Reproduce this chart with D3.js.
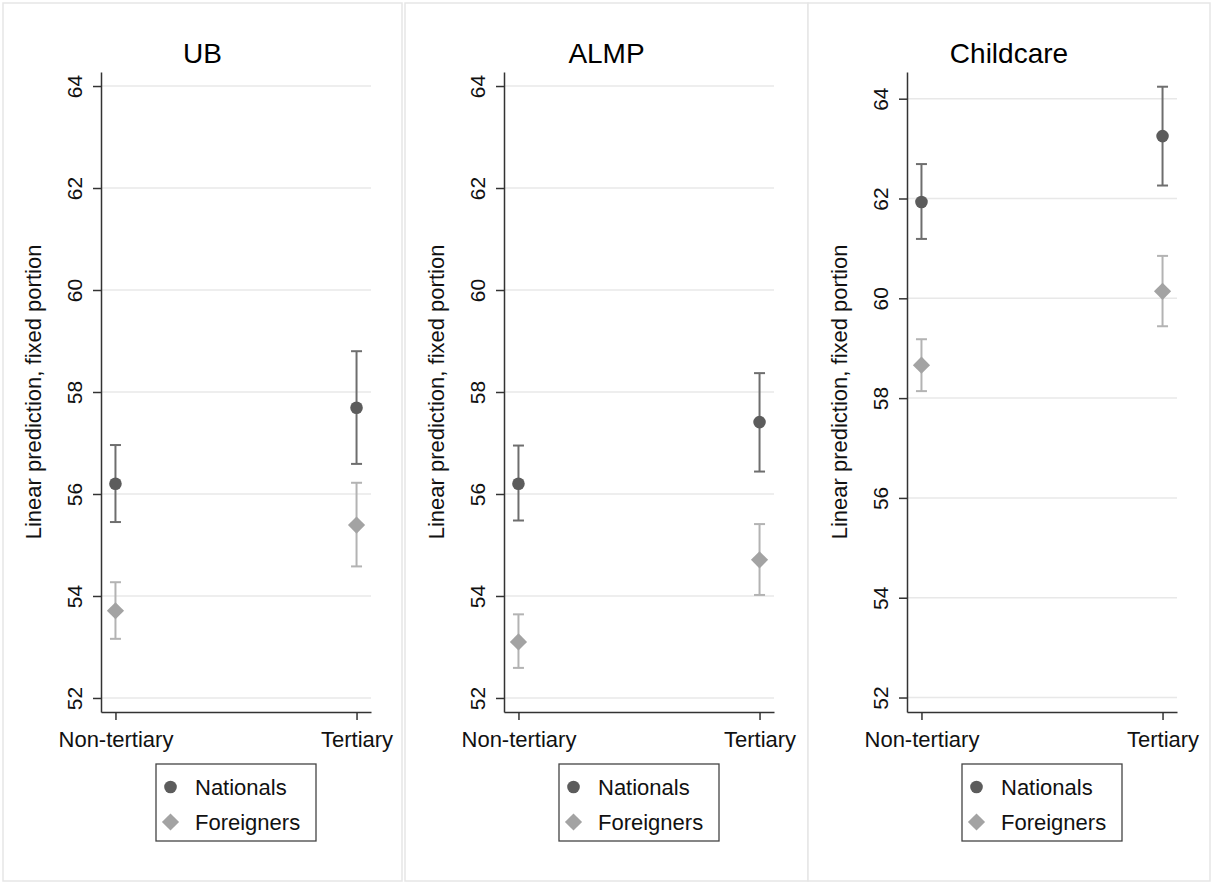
<!DOCTYPE html>
<html>
<head>
<meta charset="utf-8">
<script src="https://cdn.jsdelivr.net/npm/d3@7"></script>
<style>
    body { margin: 0; background: #fff; }
    svg { display: block; font-family: "Liberation Sans", Arial, sans-serif; }
</style>
</head>
<body>
<svg id="chart" width="1211" height="882"></svg>
<script>
const panels = ["UB", "ALMP", "Childcare"]
const educLevels = ["Non-tertiary", "Tertiary"]
const groups = ["Nationals", "Foreigners"]
const yTicks = [52, 54, 56, 58, 60, 62, 64]
const yTitle = "Linear prediction, fixed portion"

// per panel: [Non-tertiary, Tertiary]
const nationalsEst = [[56.20, 57.69], [56.20, 57.41], [61.93, 63.25]]
const nationalsLo  = [[55.45, 56.59], [55.48, 56.44], [61.19, 62.26]]
const nationalsHi  = [[56.96, 58.80], [56.95, 58.37], [62.69, 64.24]]
const foreignersEst = [[53.71, 55.39], [53.10, 54.71], [58.66, 60.14]]
const foreignersLo  = [[53.16, 54.58], [52.59, 54.02], [58.14, 59.44]]
const foreignersHi  = [[54.27, 56.22], [53.64, 55.41], [59.18, 60.85]]

const yDomains = [[51.725, 64.275], [51.725, 64.275], [51.71, 64.535]]

const panelLeft = [3, 405, 808]
const panelRight = [402, 808, 1210]
const axisLeft = [101, 504, 907]
const plotW = 270
const plotTop = 72
const plotBottom = 712

const colors = {
    Nationals: { mark: "#5c5c5c", bar: "#6e6e6e" },
    Foreigners: { mark: "#a3a3a3", bar: "#b3b3b3" }
}

const svg = d3.select("#chart")

const diamond = (cx, cy, h) => `M${cx},${cy - h}L${cx + h},${cy}L${cx},${cy + h}L${cx - h},${cy}Z`

const drawMarker = (g, group, cx, cy) => {
    if (group === "Nationals") {
        g.append("circle")
            .attr("cx", cx).attr("cy", cy).attr("r", 6.3)
            .attr("fill", colors[group].mark)
    } else {
        g.append("path")
            .attr("d", diamond(cx, cy, 8.6))
            .attr("fill", colors[group].mark)
    }
}

panels.forEach((name, i) => {
    const g = svg.append("g")

    // panel frame
    g.append("rect")
        .attr("x", panelLeft[i]).attr("y", 3)
        .attr("width", panelRight[i] - panelLeft[i]).attr("height", 878)
        .attr("fill", "#fff")
        .attr("stroke", "#e6e6e6").attr("stroke-width", 1.5)

    const x0 = axisLeft[i]
    const x = d3.scaleLinear().domain([-0.06, 1.06]).range([x0, x0 + plotW])
    const y = d3.scaleLinear().domain(yDomains[i]).range([plotBottom, plotTop])

    g.append("text")
        .attr("x", (panelLeft[i] + panelRight[i]) / 2)
        .attr("y", 63)
        .attr("text-anchor", "middle")
        .attr("font-size", 28)
        .attr("fill", "#000")
        .text(name)

    // grid
    g.append("g")
        .selectAll("line")
        .data(yTicks)
        .join("line")
        .attr("x1", x0).attr("x2", x0 + plotW)
        .attr("y1", d => y(d)).attr("y2", d => y(d))
        .attr("stroke", "#e8e8e8").attr("stroke-width", 1.5)

    const yAxis = g.append("g")
        .attr("transform", `translate(${x0},0)`)
        .call(d3.axisLeft(y).tickValues(yTicks).tickSize(8).tickSizeOuter(0))
    yAxis.select(".domain").attr("stroke", "#333").attr("stroke-width", 1.5)
    yAxis.selectAll(".tick line").attr("stroke", "#333").attr("stroke-width", 1.5)
    yAxis.selectAll(".tick text")
        .attr("transform", "rotate(-90)")
        .attr("x", 0).attr("y", -19).attr("dy", 0)
        .attr("text-anchor", "middle")
        .attr("font-size", 21)
        .attr("font-family", "Liberation Sans, Arial, sans-serif")
        .attr("fill", "#111")

    const xAxis = g.append("g")
        .attr("transform", `translate(0,${plotBottom})`)
        .call(d3.axisBottom(x).tickValues([0, 1]).tickFormat(d => educLevels[d]).tickSize(8).tickPadding(11.5).tickSizeOuter(0))
    xAxis.select(".domain").attr("stroke", "#333").attr("stroke-width", 1.5)
    xAxis.selectAll(".tick line").attr("stroke", "#333").attr("stroke-width", 1.5)
    xAxis.selectAll(".tick text")
        .attr("font-size", 22)
        .attr("font-family", "Liberation Sans, Arial, sans-serif")
        .attr("fill", "#111")

    g.append("text")
        .attr("transform", `translate(${x0 - 60},${(plotTop + plotBottom) / 2}) rotate(-90)`)
        .attr("text-anchor", "middle")
        .attr("font-size", 22)
        .attr("fill", "#111")
        .text(yTitle)

    const series = [
        { group: "Nationals", est: nationalsEst[i], lo: nationalsLo[i], hi: nationalsHi[i] },
        { group: "Foreigners", est: foreignersEst[i], lo: foreignersLo[i], hi: foreignersHi[i] }
    ]

    series.forEach(s => {
        educLevels.forEach((lvl, j) => {
            const cx = x(j)
            const c = colors[s.group].bar
            g.append("line")
                .attr("x1", cx).attr("x2", cx)
                .attr("y1", y(s.lo[j])).attr("y2", y(s.hi[j]))
                .attr("stroke", c).attr("stroke-width", 2)
            ;[s.lo[j], s.hi[j]].forEach(v => {
                g.append("line")
                    .attr("x1", cx - 5.5).attr("x2", cx + 5.5)
                    .attr("y1", y(v)).attr("y2", y(v))
                    .attr("stroke", c).attr("stroke-width", 2)
            })
            drawMarker(g, s.group, cx, y(s.est[j]))
        })
    })

    // legend
    const legW = 160
    const legX = x0 + plotW / 2 - legW / 2
    const leg = g.append("g")
    leg.append("rect")
        .attr("x", legX).attr("y", 764)
        .attr("width", legW).attr("height", 77)
        .attr("fill", "#fff")
        .attr("stroke", "#444").attr("stroke-width", 1.3)
    groups.forEach((grp, k) => {
        const cy = 787 + k * 35
        drawMarker(leg, grp, legX + 14.5, cy)
        leg.append("text")
            .attr("x", legX + 39)
            .attr("y", cy + 7.5)
            .attr("font-size", 22)
            .attr("fill", "#111")
            .text(grp)
    })
})
</script>
</body>
</html>
